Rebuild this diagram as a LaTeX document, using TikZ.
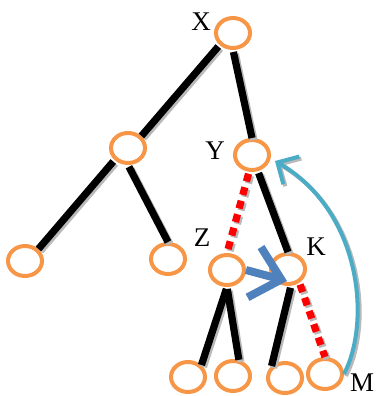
\documentclass[tikz,border=0pt]{standalone}
\usepackage{fontspec}
\setmainfont{Liberation Serif}
\usetikzlibrary{arrows.meta,shapes.geometric,calc}
\definecolor{vorange}{HTML}{F79646}
\definecolor{swapblue}{HTML}{4F81BD}
\definecolor{jumpcyan}{HTML}{4BACC6}
\tikzset{
  vert/.style={draw=vorange, ellipse, line width=2pt, minimum width=17pt, minimum height=15pt, inner sep=0pt},
  shade/.style={preaction={draw=gray!55, transform canvas={shift={(1pt,-1pt)}}, #1}},
  edge/.style={line width=3.6pt, shade={line width=3.6pt}, shorten <=1pt},
  redge/.style={line width=3.6pt, draw=red, dash pattern=on 4pt off 3pt, shorten <=1pt,
    shade={line width=3.6pt, dash pattern=on 4pt off 3pt}},
  lbl/.style={font=\fontsize{13.5}{15}\selectfont, inner sep=0pt},
  swap/.style={draw=swapblue, line width=4pt, -{Straight Barb[length=14pt,width=26pt,line width=4pt]}},
  jump/.style={draw=jumpcyan, line width=2pt, shade={line width=2pt}, -{Straight Barb[length=8pt,width=16pt]}},
}
\begin{document}
\begin{tikzpicture}[x=0.5pt,y=-0.5pt]
\useasboundingbox (0,0) rectangle (379,396);
% vertices
\node[vert] (X) at (233,33) {};
\node[vert] (L1) at (128,148) {};
\node[vert] (LL) at (25,261) {};
\node[vert] (LR) at (168,259) {};
\node[vert] (Y) at (252,155) {};
\node[vert] (Z) at (227,270) {};
\node[vert] (K) at (288,269) {};
\node[vert] (b1) at (188,377) {};
\node[vert] (b2) at (233,376) {};
\node[vert] (b3) at (285,378) {};
\node[vert] (M) at (325,374) {};
% labels
\node[lbl] (xl) at (201,22) {X};
\node[lbl] (yl) at (215,151) {Y};
\node[lbl] (zl) at (202,238) {Z};
\node[lbl] (kl) at (316,247) {K};
\node[lbl] (ml) at (362,383) {M};
% tree edges
\draw[edge] (X.south west) -- (L1.north east);
\draw[edge] (X.south) -- (Y.north);
\draw[edge] (L1.south west) -- (LL.north east);
\draw[edge] (L1.south) -- (LR.north);
\draw[redge] (Y.-100) -- (Z.north);
\draw[edge] (Y.-70) -- (K.north);
\draw[edge] (Z.south) -- (b1.north east);
\draw[edge] (Z.south) -- (b2.70);
\draw[edge] (K.-80) -- (b3.north west);
\draw[redge] (K.-50) -- (M.north);
% moves
\draw[swap] (Z.east) -- ($(K)+(-1,12)$);
\draw[jump] (M.east) .. controls (372,320) and (360,210) .. ($(Y.east)+(4,6)$);
\end{tikzpicture}
\end{document}
